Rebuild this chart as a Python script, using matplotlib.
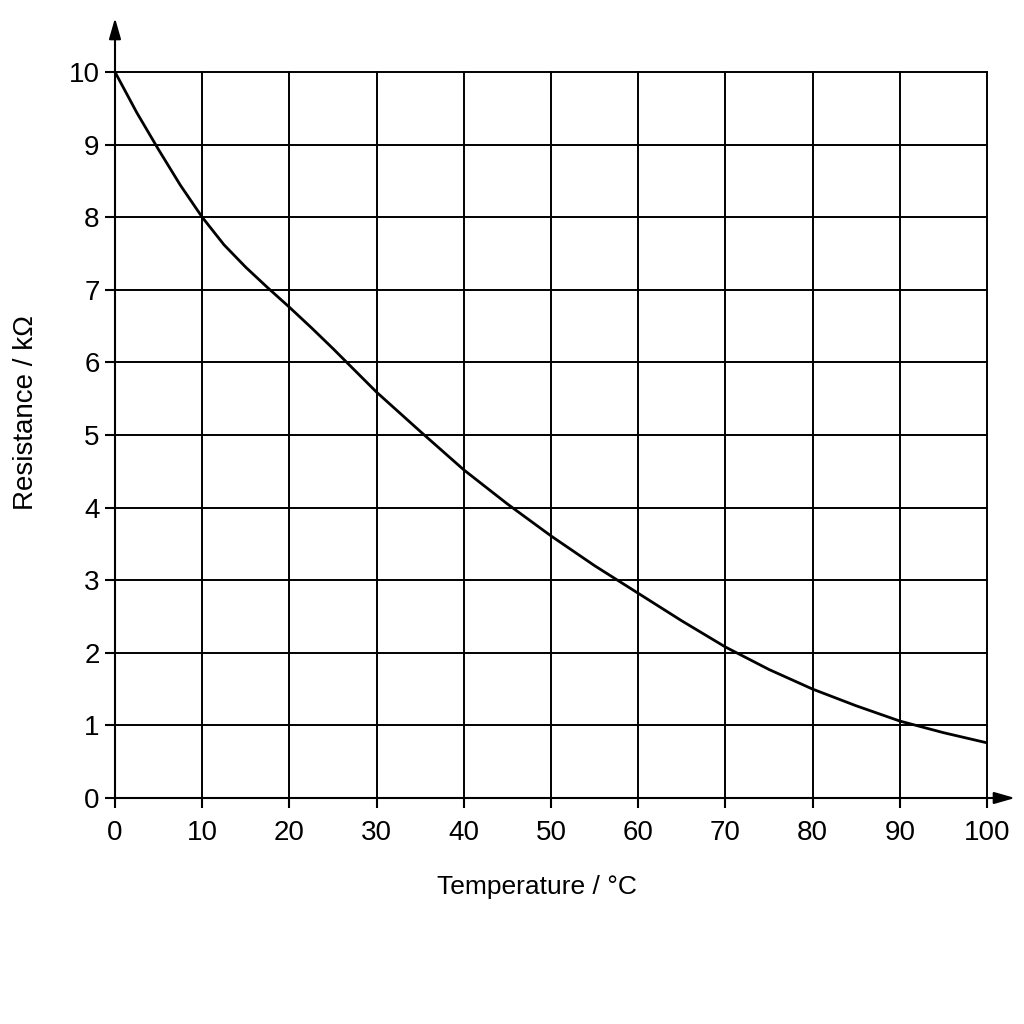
import matplotlib
matplotlib.use("Agg")
import matplotlib.pyplot as plt

temperature = [0, 2.5, 5, 7.5, 10, 12.5, 15, 17.5, 20, 22.5, 25, 27.5, 30, 35, 40, 45, 50, 55, 60, 65,
               70, 75, 80, 85, 90, 95, 100]
resistance = [10.0, 9.44, 8.93, 8.44, 8.0, 7.62, 7.31, 7.03, 6.76, 6.48, 6.19, 5.89, 5.59, 5.05, 4.52, 4.05,
              3.61, 3.20, 2.82, 2.44, 2.08, 1.77, 1.50, 1.27, 1.06, 0.90, 0.76]
x_ticks = [0, 10, 20, 30, 40, 50, 60, 70, 80, 90, 100]
y_ticks = [0, 1, 2, 3, 4, 5, 6, 7, 8, 9, 10]
x_label = "Temperature / °C"
y_label = "Resistance / kΩ"

plt.rcParams['font.family'] = ['Liberation Sans', 'DejaVu Sans']

fig = plt.figure(figsize=(10.24, 10.24), dpi=100)
ax = fig.add_axes([115/1024, 1 - 798/1024, 872/1024, 726/1024])

ax.set_xlim(0, 100)
ax.set_ylim(0, 10)
ax.set_xticks(x_ticks)
ax.set_yticks(y_ticks)
ax.tick_params(axis='both', labelsize=20, length=7, width=1.5, colors='black')
ax.tick_params(axis='x', pad=9)
ax.tick_params(axis='y', pad=4)

ax.grid(True, color='black', linewidth=1.4)
for gl in ax.get_xgridlines() + ax.get_ygridlines():
    gl.set_clip_on(False)
ax.set_axisbelow(True)
for side in ['top', 'right']:
    ax.spines[side].set_visible(False)
for side in ['left', 'bottom']:
    ax.spines[side].set_linewidth(1.5)

ax.plot(temperature, resistance, color='black', linewidth=2, zorder=3,
        solid_joinstyle='round', solid_capstyle='round')

# axis arrows
arrow_props = dict(arrowstyle='-|>,head_length=0.7,head_width=0.2', color='black',
                   lw=1.5, mutation_scale=18, shrinkA=0, shrinkB=0)
ax.annotate('', xy=(900/872, 0), xytext=(1.0, 0), xycoords='axes fraction',
            arrowprops=arrow_props, annotation_clip=False)
ax.annotate('', xy=(0, 780/726), xytext=(0, 1.0), xycoords='axes fraction',
            arrowprops=arrow_props, annotation_clip=False)

fig.text(537/1024, 1 - 887/1024, x_label, ha='center', va='center', fontsize=19)
fig.text(26/1024, 1 - 412/1024, y_label, ha='center', va='center', fontsize=20, rotation=90)

fig.savefig('out.png', dpi=100, facecolor='white')
